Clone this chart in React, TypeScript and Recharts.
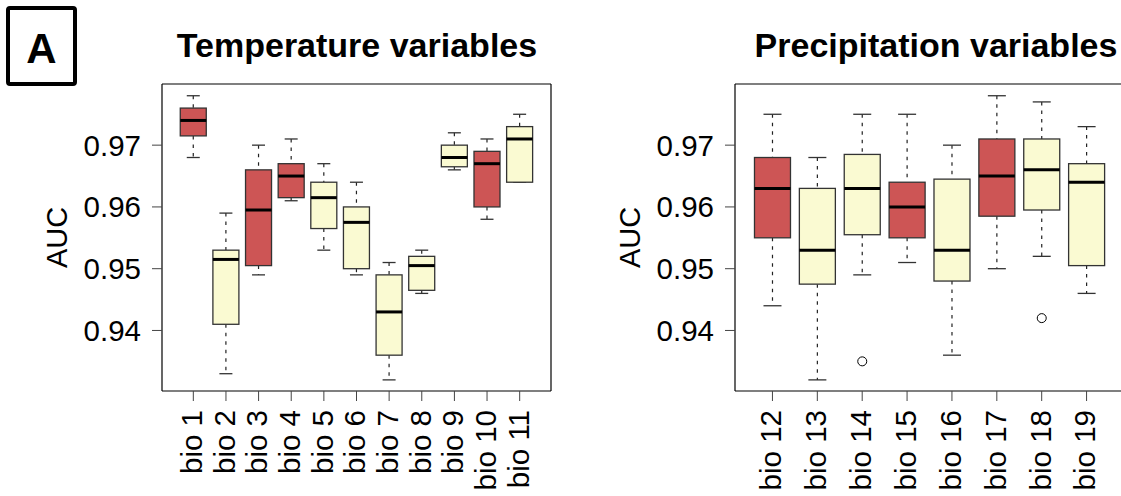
import React from 'react';
import { ComposedChart, Bar, XAxis, YAxis } from 'recharts';

const FONT = '"Liberation Sans", Arial, Helvetica, sans-serif';

// temperature variables (bio 1 - bio 11)
const tempLabels = ['bio 1', 'bio 2', 'bio 3', 'bio 4', 'bio 5', 'bio 6', 'bio 7', 'bio 8', 'bio 9', 'bio 10', 'bio 11'];
const tempLow = [0.968, 0.933, 0.949, 0.961, 0.953, 0.949, 0.932, 0.946, 0.966, 0.958, 0.964];
const tempQ1 = [0.9715, 0.941, 0.9505, 0.9615, 0.9565, 0.95, 0.936, 0.9465, 0.9665, 0.96, 0.964];
const tempMedian = [0.974, 0.9515, 0.9595, 0.965, 0.9615, 0.9575, 0.943, 0.9505, 0.968, 0.967, 0.971];
const tempQ3 = [0.976, 0.953, 0.966, 0.967, 0.964, 0.96, 0.949, 0.952, 0.97, 0.969, 0.973];
const tempHigh = [0.978, 0.959, 0.97, 0.971, 0.967, 0.964, 0.951, 0.953, 0.972, 0.971, 0.975];
const tempSelected = [true, false, true, true, false, false, false, false, false, true, false];

// precipitation variables (bio 12 - bio 19)
const precLabels = ['bio 12', 'bio 13', 'bio 14', 'bio 15', 'bio 16', 'bio 17', 'bio 18', 'bio 19'];
const precLow = [0.944, 0.932, 0.949, 0.951, 0.936, 0.95, 0.952, 0.946];
const precQ1 = [0.955, 0.9475, 0.9555, 0.955, 0.948, 0.9585, 0.9595, 0.9505];
const precMedian = [0.963, 0.953, 0.963, 0.96, 0.953, 0.965, 0.966, 0.964];
const precQ3 = [0.968, 0.963, 0.9685, 0.964, 0.9645, 0.971, 0.971, 0.967];
const precHigh = [0.975, 0.968, 0.975, 0.975, 0.97, 0.978, 0.977, 0.973];
const precOutlier: (number | null)[] = [null, null, 0.935, null, null, null, 0.942, null];
const precSelected = [true, false, false, true, false, true, false, false];

const yTicks = [0.94, 0.95, 0.96, 0.97];
const yDomain = [0.9302, 0.9799];

type Row = {
  name: string;
  lo: number;
  q1: number;
  med: number;
  q3: number;
  hi: number;
  out: number | null;
  sel: boolean;
};

const tempData: Row[] = tempLabels.map((name, i) => ({
  name, lo: tempLow[i], q1: tempQ1[i], med: tempMedian[i], q3: tempQ3[i], hi: tempHigh[i], out: null, sel: tempSelected[i],
}));

const precData: Row[] = precLabels.map((name, i) => ({
  name, lo: precLow[i], q1: precQ1[i], med: precMedian[i], q3: precQ3[i], hi: precHigh[i], out: precOutlier[i], sel: precSelected[i],
}));

const whiskerRange = (d: Row) => [d.lo, d.hi];

// box drawn inside the range bar (lo..hi) that recharts has scaled for us
function BoxShape(props: any) {
  const { x, y, width, height, payload } = props;
  const d: Row = payload;
  const top = Math.min(y, y + height);
  const bot = Math.max(y, y + height);
  const k = (bot - top) / (d.hi - d.lo);
  const py = (v: number) => bot - (v - d.lo) * k;
  const cx = x + width / 2;
  const cap = width / 4;
  return (
    <g>
      <line x1={cx} x2={cx} y1={py(d.hi)} y2={py(d.q3)} stroke="#222" strokeWidth={1.2} strokeDasharray="3.5 5" />
      <line x1={cx} x2={cx} y1={py(d.q1)} y2={py(d.lo)} stroke="#222" strokeWidth={1.2} strokeDasharray="3.5 5" />
      <line x1={cx - cap} x2={cx + cap} y1={py(d.hi)} y2={py(d.hi)} stroke="#333" strokeWidth={1.3} />
      <line x1={cx - cap} x2={cx + cap} y1={py(d.lo)} y2={py(d.lo)} stroke="#333" strokeWidth={1.3} />
      <rect
        x={x}
        y={py(d.q3)}
        width={width}
        height={py(d.q1) - py(d.q3)}
        fill={d.sel ? '#CD5555' : '#FAFAD2'}
        stroke="#333"
        strokeWidth={1.3}
      />
      <line x1={x} x2={x + width} y1={py(d.med)} y2={py(d.med)} stroke="#000" strokeWidth={3} />
      {d.out != null && (
        <circle cx={cx} cy={py(d.out)} r={4.5} fill="none" stroke="#000" strokeWidth={1} />
      )}
    </g>
  );
}

function XTick(props: any) {
  const { x, y, payload } = props;
  return (
    <g transform={`translate(${x},${y})`}>
      <text transform="rotate(-90)" x={-9} y={0} dy="0.3em" textAnchor="end" fontSize={29.5} fontFamily={FONT} fill="#000">
        {payload.value}
      </text>
    </g>
  );
}

function AucLabel(props: any) {
  const { viewBox } = props;
  const x = viewBox.x + viewBox.width - 95;
  const y = viewBox.y + viewBox.height / 2;
  return (
    <text transform={`translate(${x},${y}) rotate(-90)`} textAnchor="middle" fontSize={29} fontFamily={FONT} fill="#000">
      AUC
    </text>
  );
}

function BoxPanel({ data, width, marginRight, axisWidth }: { data: Row[]; width: number; marginRight: number; axisWidth: number }) {
  return (
    <ComposedChart
      width={width}
      height={496}
      data={data}
      margin={{ top: 83, right: marginRight, bottom: 0, left: 0 }}
      barCategoryGap="10%"
    >
      <XAxis
        dataKey="name"
        interval={0}
        height={105}
        padding={{ left: 15, right: 15 }}
        axisLine={{ stroke: '#000', strokeWidth: 1.2 }}
        tickLine={{ stroke: '#444' }}
        tickSize={10}
        tickMargin={0}
        tick={<XTick />}
      />
      <XAxis
        xAxisId="top"
        dataKey="name"
        orientation="top"
        height={1}
        padding={{ left: 15, right: 15 }}
        tick={false}
        tickLine={false}
        axisLine={{ stroke: '#000', strokeWidth: 1.2 }}
      />
      <YAxis
        type="number"
        domain={yDomain}
        ticks={yTicks}
        allowDataOverflow
        width={axisWidth}
        axisLine={{ stroke: '#000', strokeWidth: 1.2 }}
        tickLine={{ stroke: '#444' }}
        tickSize={10}
        tickMargin={11}
        tick={{ fontSize: 29.5, fill: '#000', fontFamily: FONT }}
        label={<AucLabel />}
      />
      <YAxis
        yAxisId="right"
        orientation="right"
        type="number"
        domain={yDomain}
        allowDataOverflow
        width={1}
        tick={false}
        tickLine={false}
        axisLine={{ stroke: '#000', strokeWidth: 1.2 }}
      />
      <Bar dataKey={whiskerRange} shape={<BoxShape />} isAnimationActive={false} />
    </ComposedChart>
  );
}

export default function App() {
  return (
    <div style={{ position: 'absolute', left: 0, top: 0, width: 1121, height: 496, overflow: 'hidden', background: '#fff' }}>
      <div style={{ position: 'absolute', left: 0, top: 0 }}>
        <BoxPanel data={tempData} width={560} marginRight={8} axisWidth={162} />
      </div>
      <div style={{ position: 'absolute', left: 580, top: 0 }}>
        <BoxPanel data={precData} width={560} marginRight={15} axisWidth={155} />
      </div>
      <svg width={1121} height={496} style={{ position: 'absolute', left: 0, top: 0, pointerEvents: 'none' }}>
        <rect x={8} y={8} width={67} height={76} rx={2} fill="none" stroke="#000" strokeWidth={4} />
        <text x={41.5} y={63} textAnchor="middle" fontSize={42} fontWeight="bold" fontFamily={FONT}>A</text>
        <text x={357} y={57} textAnchor="middle" fontSize={34} fontWeight="bold" fontFamily={FONT}>Temperature variables</text>
        <text x={936} y={57} textAnchor="middle" fontSize={34} fontWeight="bold" fontFamily={FONT}>Precipitation variables</text>
      </svg>
    </div>
  );
}
